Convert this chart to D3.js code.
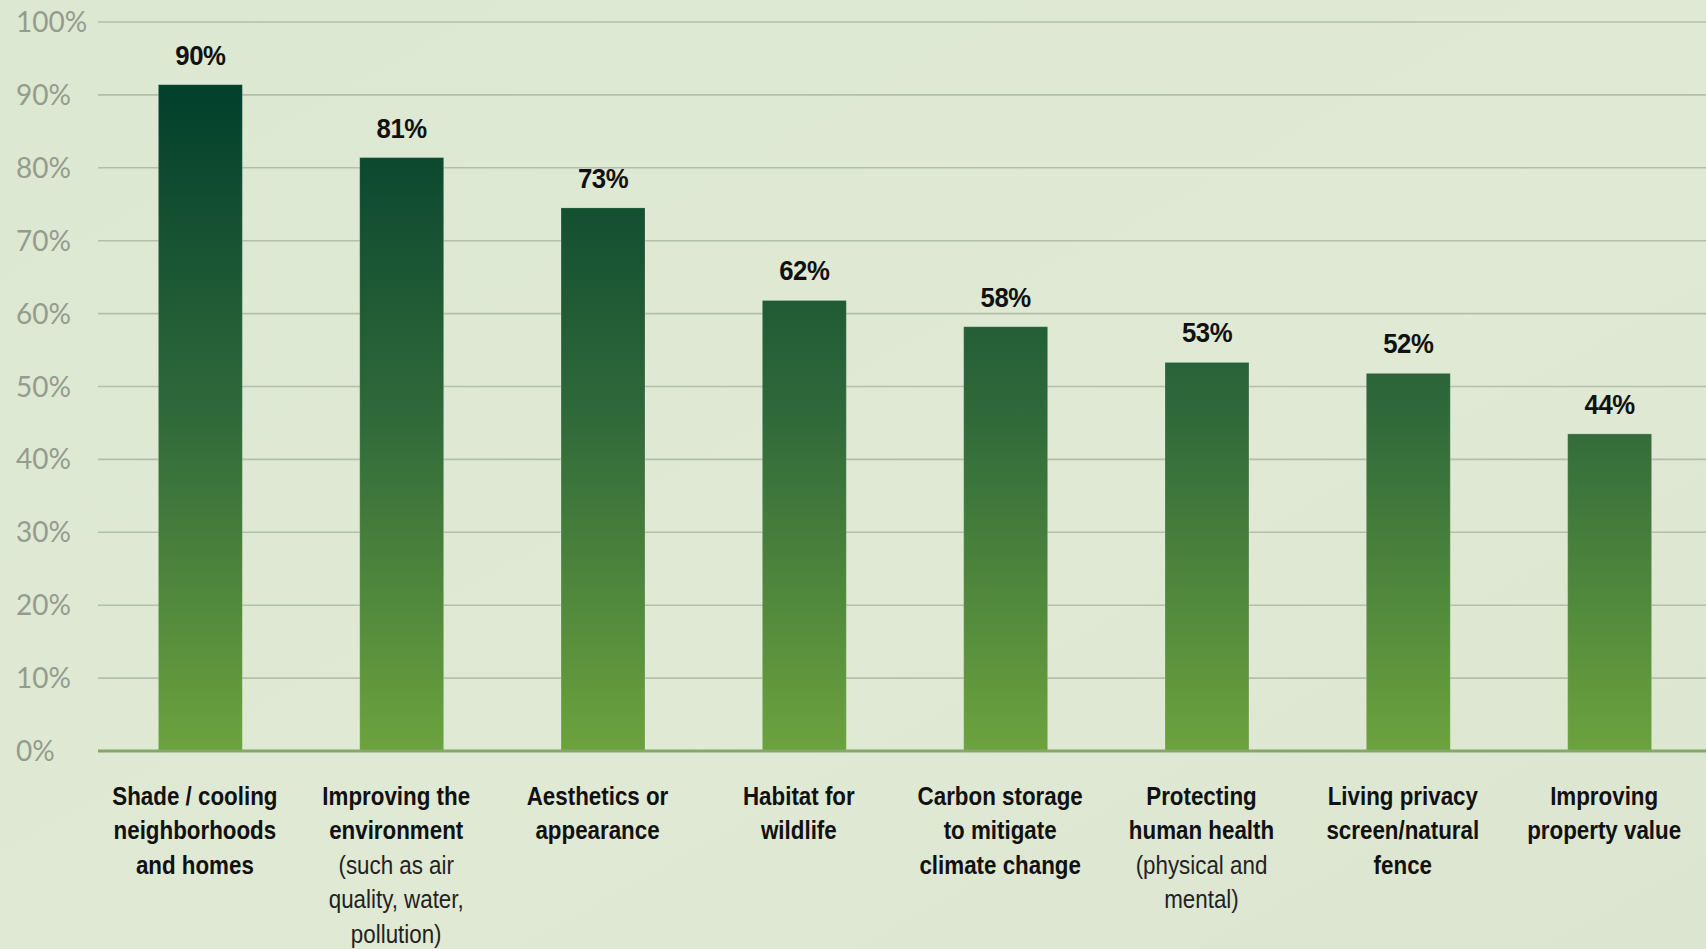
<!DOCTYPE html>
<html>
<head>
<meta charset="utf-8">
<script src="https://cdn.jsdelivr.net/npm/d3@7"></script>
<style>
  html, body { margin: 0; padding: 0; background: #dee9d3; overflow: hidden; }
  svg { display: block; }
</style>
</head>
<body>
<script>
// data
const categories = [
  "Shade / cooling neighborhoods and homes",
  "Improving the environment",
  "Aesthetics or appearance",
  "Habitat for wildlife",
  "Carbon storage to mitigate climate change",
  "Protecting human health",
  "Living privacy screen/natural fence",
  "Improving property value"
];
// bold label lines and light sub-lines
const labelLines = [
  ["Shade / cooling", "neighborhoods", "and homes"],
  ["Improving the", "environment"],
  ["Aesthetics or", "appearance"],
  ["Habitat for", "wildlife"],
  ["Carbon storage", "to mitigate", "climate change"],
  ["Protecting", "human health"],
  ["Living privacy", "screen/natural", "fence"],
  ["Improving", "property value"]
];
const subLines = [
  [],
  ["(such as air", "quality, water,", "pollution)"],
  [],
  [],
  [],
  ["(physical and", "mental)"],
  [],
  []
];
// bar heights as drawn and the printed labels
const values = [91.4, 81.4, 74.5, 61.8, 58.2, 53.3, 51.8, 43.5];
const valueLabels = ["90%", "81%", "73%", "62%", "58%", "53%", "52%", "44%"];
const yTicks = [0, 10, 20, 30, 40, 50, 60, 70, 80, 90, 100];

const w = 1706;
const h = 949;

const svg = d3.select("body").append("svg")
  .attr("width", w)
  .attr("height", h);

const defs = svg.append("defs");

const y = d3.scaleLinear().domain([0, 100]).range([751, 22]);
const x = d3.scaleBand()
  .domain(categories)
  .range([98, 1712])
  .paddingInner(0.583)
  .paddingOuter(0.3);

// background
const bg = defs.append("linearGradient").attr("id", "bg")
  .attr("x1", 0).attr("y1", 0).attr("x2", 1).attr("y2", 1);
bg.append("stop").attr("offset", 0).attr("stop-color", "#dde8d2");
bg.append("stop").attr("offset", 0.6).attr("stop-color", "#dfe9d4");
bg.append("stop").attr("offset", 1).attr("stop-color", "#dbe5d0");
svg.append("rect").attr("width", w).attr("height", h).attr("fill", "url(#bg)");

// bar gradient shared by all bars
const grad = defs.append("linearGradient").attr("id", "barGrad")
  .attr("gradientUnits", "userSpaceOnUse")
  .attr("x1", 0).attr("x2", 0)
  .attr("y1", y(0)).attr("y2", y(92));
grad.append("stop").attr("offset", 0).attr("stop-color", "#6ca33e");
grad.append("stop").attr("offset", 0.5).attr("stop-color", "#30693a");
grad.append("stop").attr("offset", 1).attr("stop-color", "#013f2c");

// gridlines
svg.append("g").selectAll("line")
  .data(yTicks.filter(d => d > 0))
  .enter().append("line")
  .attr("x1", 98).attr("x2", w)
  .attr("y1", d => y(d)).attr("y2", d => y(d))
  .attr("stroke", "#b3bfaa")
  .attr("stroke-width", 1.6);

// y labels
svg.append("g").selectAll("text")
  .data(yTicks)
  .enter().append("text")
  .attr("x", 16)
  .attr("y", d => y(d) + 10)
  .attr("font-family", "Lato, 'Open Sans', sans-serif")
  .attr("font-weight", 400)
  .attr("font-size", 28)
  .attr("fill", "#939c8f")
  .text(d => d + "%");

// bars
svg.append("g").selectAll("rect")
  .data(values)
  .enter().append("rect")
  .attr("x", (d, i) => x(categories[i]))
  .attr("y", d => y(d))
  .attr("width", x.bandwidth())
  .attr("height", d => y(0) - y(d) + 1)
  .attr("fill", "url(#barGrad)")
  .attr("stroke", "rgba(255,255,255,0.18)")
  .attr("stroke-width", 1);

// baseline
svg.append("line")
  .attr("x1", 98).attr("x2", w)
  .attr("y1", y(0)).attr("y2", y(0))
  .attr("stroke", "#86a66a")
  .attr("stroke-width", 3);

// value labels
svg.append("g").selectAll("text")
  .data(values)
  .enter().append("text")
  .attr("transform", (d, i) =>
    "translate(" + (x(categories[i]) + x.bandwidth() / 2) + "," + (y(d) - 20) + ") scale(0.92,1)")
  .attr("text-anchor", "middle")
  .attr("font-family", "'Liberation Sans', Arial, sans-serif")
  .attr("font-weight", 700)
  .attr("font-size", 28)
  .attr("letter-spacing", -0.5)
  .attr("fill", "#111")
  .text((d, i) => valueLabels[i]);

// category labels, squeezed to look condensed
const cat = svg.append("g").selectAll("text")
  .data(categories)
  .enter().append("text")
  .attr("transform", d => "translate(" + (x(d) + x.bandwidth() / 2 - 5.5) + ",0) scale(0.86,1)")
  .attr("text-anchor", "middle")
  .attr("font-family", "'Liberation Sans', Arial, sans-serif")
  .attr("font-size", 26)
  .attr("fill", "#111");

cat.each(function(d, i) {
  const t = d3.select(this);
  const lines = labelLines[i].map(s => ({ s, bold: true }))
    .concat(subLines[i].map(s => ({ s, bold: false })));
  lines.forEach((l, j) => {
    t.append("tspan")
      .attr("x", 0)
      .attr("y", 805 + j * 34.5)
      .attr("font-weight", l.bold ? 700 : 400)
      .attr("fill", l.bold ? "#111" : "#222")
      .text(l.s);
  });
});
</script>
</body>
</html>
